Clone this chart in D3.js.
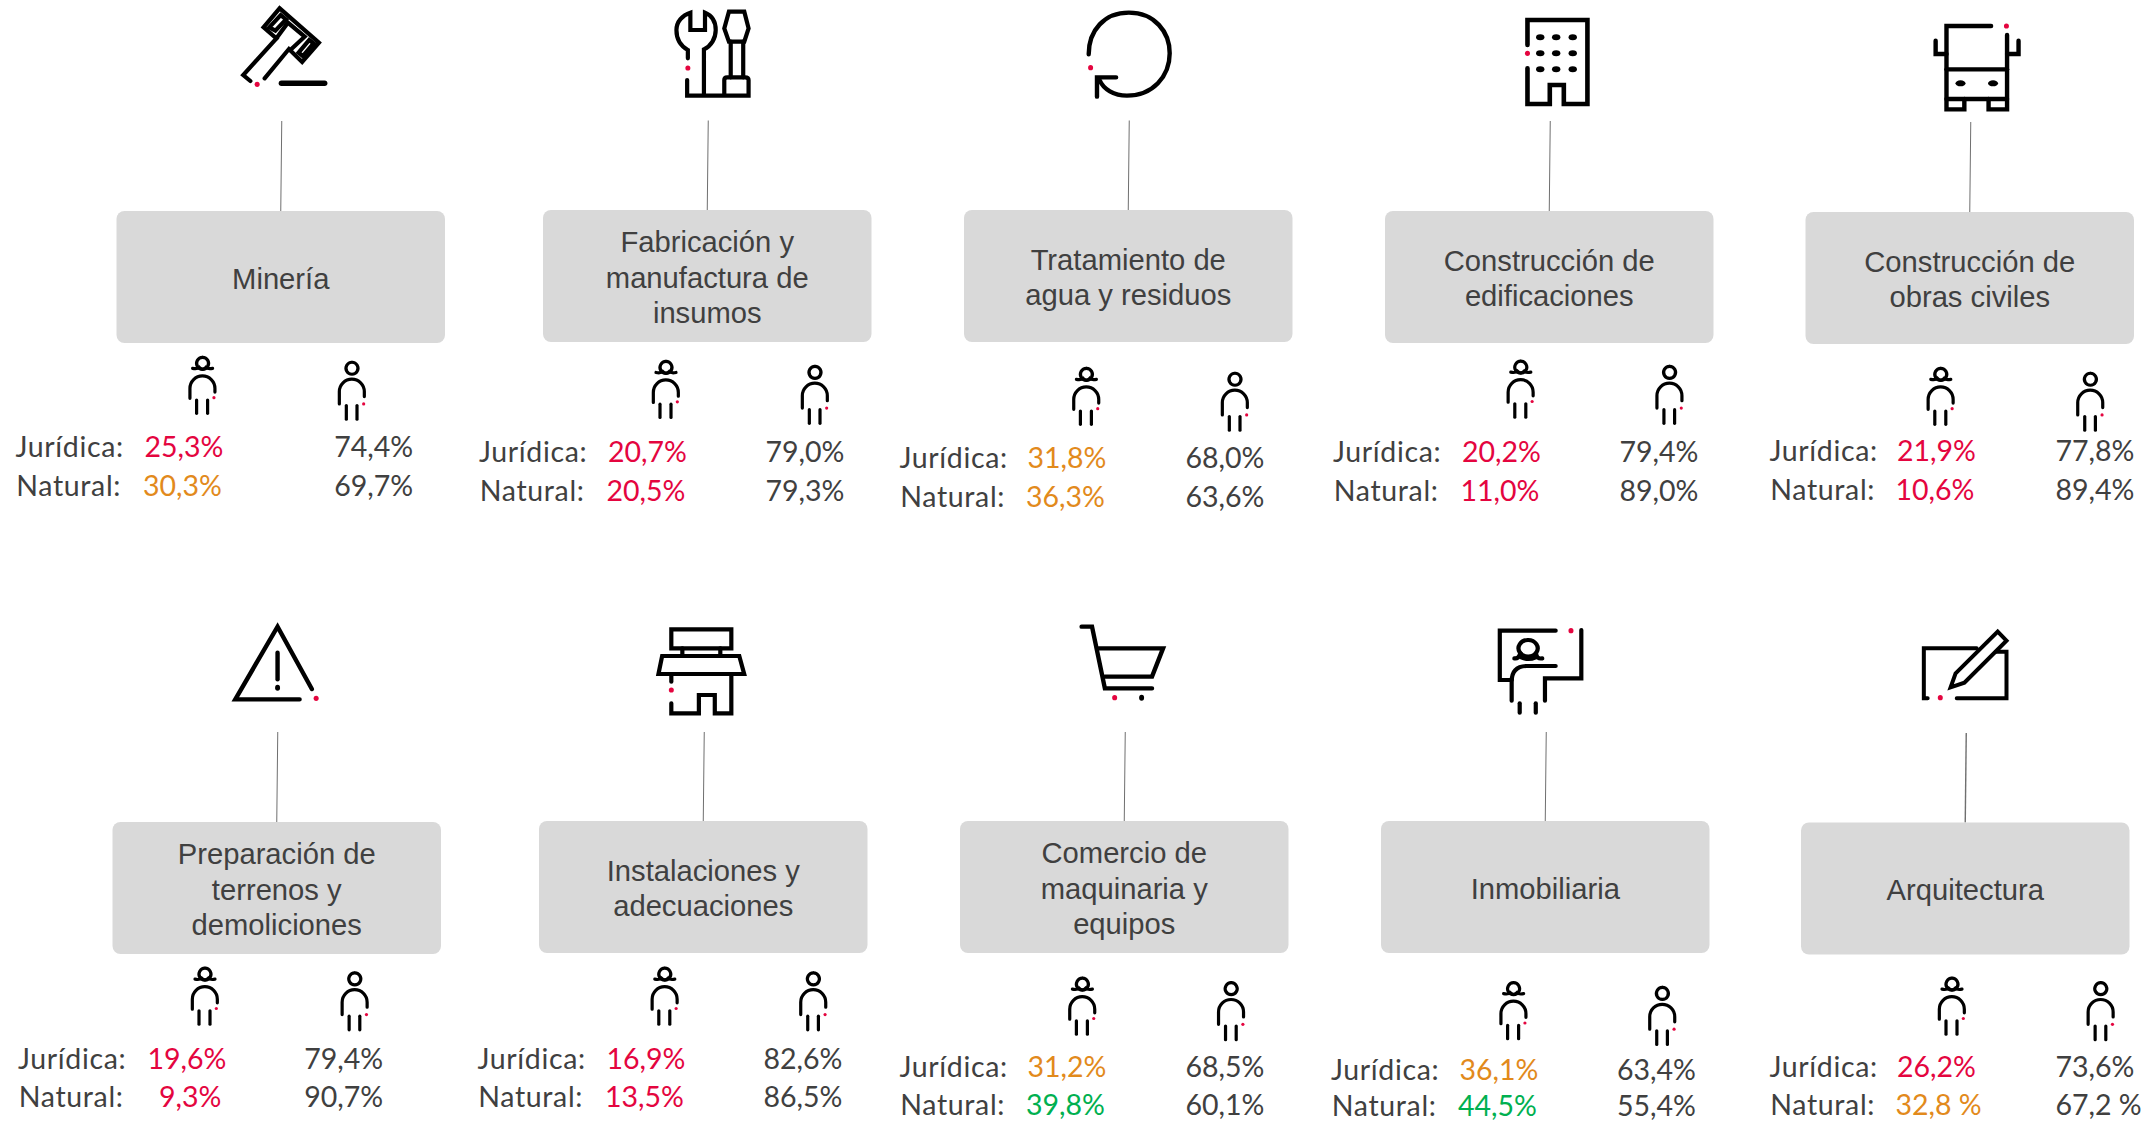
<!DOCTYPE html>
<html>
<head>
<meta charset="utf-8">
<script src="https://cdn.jsdelivr.net/npm/d3@7"></script>
<style>
  body { margin: 0; background: #fff; }
  .ico { fill: none; stroke: #000; stroke-linecap: round; stroke-linejoin: miter; vector-effect: non-scaling-stroke; }
  .sector { font-family: "Liberation Sans", Arial, sans-serif; font-size: 29.2px; fill: #404040; text-anchor: middle; }
  .val { font-family: Lato, "Open Sans", sans-serif; font-size: 28.5px; fill: #404040; }
  .rowname { letter-spacing: 0.65px; }
</style>
</head>
<body>
<div id="chart"></div>
<script>
const sectors = [
  ["Minería"],
  ["Fabricación y", "manufactura de", "insumos"],
  ["Tratamiento de", "agua y residuos"],
  ["Construcción de", "edificaciones"],
  ["Construcción de", "obras civiles"],
  ["Preparación de", "terrenos y", "demoliciones"],
  ["Instalaciones y", "adecuaciones"],
  ["Comercio de", "maquinaria y", "equipos"],
  ["Inmobiliaria"],
  ["Arquitectura"],
];
const juridicaMujer = [25.3, 20.7, 31.8, 20.2, 21.9, 19.6, 16.9, 31.2, 36.1, 26.2];
const naturalMujer = [30.3, 20.5, 36.3, 11.0, 10.6, 9.3, 13.5, 39.8, 44.5, 32.8];
const juridicaHombre = [74.4, 79.0, 68.0, 79.4, 77.8, 79.4, 82.6, 68.5, 63.4, 73.6];
const naturalHombre = [69.7, 79.3, 63.6, 89.0, 89.4, 90.7, 86.5, 60.1, 55.4, 67.2];
const rowLabels = ["Jurídica:", "Natural:"];

// layout: box, connector, text columns, the two person icons
const boxX = [116.5, 543, 964, 1385, 1805.5, 112.5, 539, 960, 1381, 1801];
const boxY = [211, 210, 210, 211, 212, 822, 821, 821, 821, 822.5];
const lineTopY = [121, 120.5, 120.5, 121, 122, 732, 732, 732, 732, 733];
const labelX = [15.5, 479, 899.5, 1333, 1769.5, 18, 477.5, 899.5, 1331, 1769.5];
const valueX = [144.5, 608, 1027.5, 1462, 1897, 147.5, 606.5, 1027.5, 1459.5, 1897];
const rightX = [334.2, 765.5, 1185.5, 1619.5, 2055.5, 304.3, 763.5, 1185.5, 1617, 2055.5];
const baseY = [457, 461.5, 468, 461.5, 461, 1069, 1069, 1077, 1080, 1077];
const rowGap = [39, 39, 39, 39, 39, 38, 38, 38, 36, 38];
const womanX = [202.6, 666, 1086.4, 1520.8, 1940.8, 205, 664.8, 1082.4, 1513.6, 1952];
const womanY = [355.7, 359.8, 366.7, 359.5, 366.7, 966.5, 966.5, 976.5, 981, 976.5];
const manX = [352, 815, 1235, 1669.6, 2090.4, 354.8, 813.4, 1231.2, 1662.4, 2100.8];
const manY = [361.6, 365.7, 372.6, 365.7, 372.6, 972.2, 972.2, 982, 986.8, 982];
const boxW = 328.5, boxH = 132;

const RED = "#e4053f";

// icon outlines traced from the crops (ox,oy,sx,sy maps crop px to page px)
// dots: [x, y, colour or null, rx override]
const icons = [
  { ox: 220, oy: 0, sx: 2.8, sy: 3, w: 4.2,
    d: ["M85,243 L65,225 L158,115 L122,82 L167,25 L277,128 L230,186 L193,147 L125,235",
        "M138,82 L170,45 L185,58 L155,92 Z", "M220,158 L250,120 L262,130 L232,168 Z",
        "M158,115 L190,68 L237,110 L200,147"],
    bar: "M172,250 H293",
    dots: [[104, 253, RED]] },
  { ox: 220, oy: 0, sx: 2.8, sy: 3, w: 4.2,
    d: ["M1310,175 V150 C1285,135 1278,110 1278,90 C1278,65 1295,45 1317,38 V90 H1358 V38 C1380,48 1388,70 1388,90 C1388,115 1375,138 1355,148 V285",
        "M1308,240 V287 H1480 V240 Q1480,232 1470,232 H1420 Q1412,232 1412,240 V287",
        "M1425,35 H1468 L1480,85 L1468,125 H1425 L1412,85 Z", "M1430,125 V232", "M1465,125 V232"],
    dots: [[1310, 204, RED]] },
  { ox: 1060, oy: 0, sx: 1.568, sy: 3, w: 4.4,
    d: ["M45,163 C45,90 70,38 108,38 C148,38 172,95 172,160 C172,230 145,287 105,287 C85,287 68,268 62,240",
        "M58,290 V232 H88"],
    dots: [[48, 203, RED]] },
  { ox: 1060, oy: 0, sx: 1.568, sy: 3, w: 4.6,
    d: ["M733,135 V60 H827 V312 H790 V255 H768 V312 H733 V205"],
    dots: [[733, 160, RED], [753, 112, null, 4.2], [778, 112, null, 4.2], [804, 112, null, 4.2], [753, 160, null, 4.2], [778, 160, null, 4.2], [804, 160, null, 4.2], [753, 208, null, 4.2], [778, 208, null, 4.2], [804, 208, null, 4.2]] },
  { ox: 1060, oy: 0, sx: 1.568, sy: 3, w: 4.4,
    d: ["M1460,78 H1390 V328 H1418 V297", "M1485,105 V328 H1456 V297", "M1390,208 H1485", "M1390,297 H1485",
        "M1373,122 V162 H1390", "M1503,122 V162 H1485"],
    dots: [[1484, 78, RED], [1412, 250, null, 5], [1463, 250, null, 5]] },
  { ox: 220, oy: 610, sx: 1.633, sy: 3, w: 4.4,
    d: ["M150,237 L94,50 L25,268 H130", "M94,128 V208"],
    dots: [[157, 265, RED], [94, 233]] },
  { ox: 220, oy: 610, sx: 1.633, sy: 3, w: 4.2,
    d: ["M737,58 H835 V115 H737 Z", "M755,115 V138", "M817,115 V138", "M722,138 H848 L856,192 H716 Z",
        "M737,192 V215", "M737,280 V310 H782 V255 H808 V310 H835 V192"],
    dots: [[737, 240, RED]] },
  { ox: 220, oy: 610, sx: 1.633, sy: 3, w: 4.4,
    d: ["M1407,50 H1424 L1445,235 H1522", "M1435,115 H1540 L1522,200 H1445"],
    dots: [[1461, 263, RED], [1505, 263]] },
  { ox: 1460, oy: 610, sx: 2.613, sy: 3, w: 4.2,
    d: ["M250,62 H104 V210 H135", "M317,60 V205 H222 V272", "M250,168 H175 Q135,168 135,215 V272",
        "M178,90 A25,25 0 1 1 177.9,90", "M142,145 C155,148 155,135 158,130", "M215,145 C200,148 200,135 198,130",
        "M160,142 Q178,152 198,142", "M156,280 V308", "M198,280 V308"],
    dots: [[290, 62, RED]] },
  { ox: 1460, oy: 610, sx: 2.613, sy: 3, w: 4,
    d: ["M1222,265 H1212 V115 H1350", "M1400,125 H1428 V265 H1298",
        "M1295,190 L1405,65 L1428,92 L1318,218 L1282,232 Z"],
    dots: [[1255, 263, RED]] },
];

const womanPaths = ["M128,52 A18,18 0 1 1 127.9,52", "M98,85 Q112,88 118,82 Q128,92 138,82 Q144,88 158,85",
  "M90,175 V145 A37,37 0 0 1 165,145 V156", "M110,180 V220", "M143,180 V220"];
const manPaths = ["M575,67 A18,18 0 1 1 574.9,67", "M537,192 V155 A37,37 0 0 1 612,155 V170", "M558,197 V238", "M590,197 V238"];

const pct = d3.formatLocale({ decimal: ",", thousands: ".", grouping: [3], currency: ["", ""] }).format(".1f");
const loose = 9; // Arquitectura is typed with a space before the % sign
const color = d3.scaleThreshold().domain([30, 38]).range([RED, "#e28a1c", "#00b050"]);

const svg = d3.select("#chart").append("svg").attr("width", 2154).attr("height", 1122);

function drawIcon(g, paths, ox, oy, sx, sy, w) {
  const t = g.append("g").attr("transform", `translate(${ox},${oy}) scale(${1 / sx},${1 / sy})`);
  t.selectAll("path").data(paths).enter().append("path")
    .attr("class", "ico").attr("d", (d) => d).attr("stroke-width", w);
}

function drawDots(g, dots, ox, oy, sx, sy) {
  g.selectAll("ellipse.dot").data(dots, (d) => d.join()).enter().append("ellipse")
    .attr("class", "dot")
    .attr("cx", (d) => ox + d[0] / sx)
    .attr("cy", (d) => oy + d[1] / sy)
    .attr("rx", (d) => d[3] || 2.5)
    .attr("ry", (d) => (d[2] ? 2.6 : 3))
    .attr("fill", (d) => d[2] || "#000");
}

const panels = svg.selectAll("g.panel").data(sectors).enter().append("g").attr("class", "panel");

panels.each(function (lines, i) {
  const g = d3.select(this);
  const cx = boxX[i] + boxW / 2;
  const cy = boxY[i] + boxH / 2;

  g.append("line")
    .attr("x1", cx + 1).attr("y1", lineTopY[i]).attr("x2", cx).attr("y2", boxY[i])
    .attr("stroke", "#6f6f6f").attr("stroke-width", i === 9 ? 1.4 : 1);

  g.append("rect")
    .attr("x", boxX[i]).attr("y", boxY[i]).attr("width", boxW).attr("height", boxH)
    .attr("rx", 8).attr("fill", "#d9d9d9");

  g.selectAll("text.sector").data(lines).enter().append("text")
    .attr("class", "sector")
    .attr("x", cx)
    .attr("y", (d, k) => cy + 11.5 + (k - (lines.length - 1) / 2) * 35.5)
    .text((d) => d);

  // big icon
  const ic = icons[i];
  drawIcon(g, ic.d, ic.ox, ic.oy, ic.sx, ic.sy, ic.w);
  if (ic.bar) drawIcon(g, [ic.bar], ic.ox, ic.oy, ic.sx, ic.sy, 5.5);
  drawDots(g, ic.dots, ic.ox, ic.oy, ic.sx, ic.sy);

  // woman / man
  const wx = womanX[i] - 128 / 3, wy = womanY[i] - 47 / 3;
  drawIcon(g, womanPaths, wx, wy, 3, 3, 3.2);
  g.append("circle").attr("cx", wx + 162 / 3).attr("cy", wy + 173 / 3).attr("r", 1.6).attr("fill", RED);
  const mx = manX[i] - 575 / 3, my = manY[i] - 65 / 3;
  drawIcon(g, manPaths, mx, my, 3, 3, 3.2);
  g.append("circle").attr("cx", mx + 610 / 3).attr("cy", my + 192 / 3).attr("r", 1.6).attr("fill", RED);

  // text rows
  const rows = [
    { name: rowLabels[0], m: juridicaMujer[i], h: juridicaHombre[i] },
    { name: rowLabels[1], m: naturalMujer[i], h: naturalHombre[i] },
  ];
  rows.forEach((r, k) => {
    const y = baseY[i] + k * rowGap[i];
    const sign = i === loose && k === 1 ? " %" : "%";
    g.append("text").attr("class", "val rowname").attr("x", labelX[i] + k * 0.8).attr("y", y).text(r.name);
    g.append("text").attr("class", "val")
      .attr("x", valueX[i] - k * 1.6 + (r.m < 10 ? 13.2 : 0)).attr("y", y)
      .style("fill", color(r.m)).text(pct(r.m) + sign);
    g.append("text").attr("class", "val").attr("x", rightX[i]).attr("y", y).text(pct(r.h) + sign);
  });
});
</script>
</body>
</html>
